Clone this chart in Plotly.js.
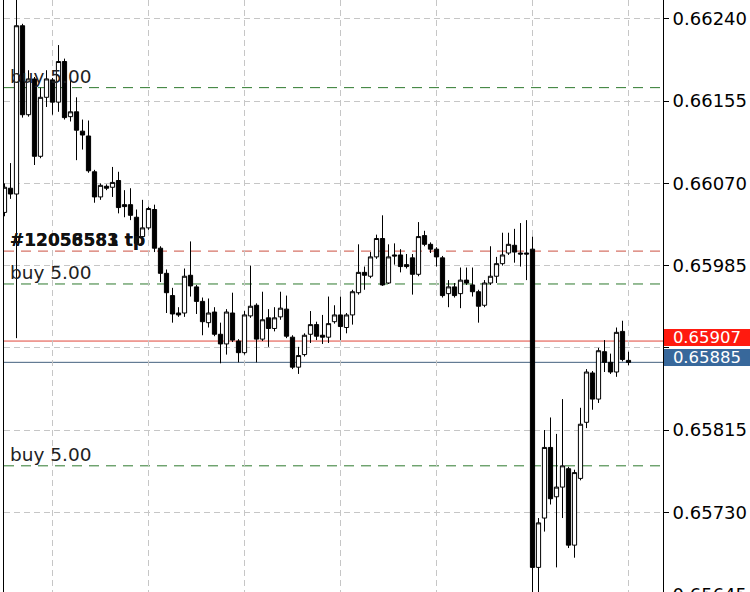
<!DOCTYPE html>
<html>
<head>
<meta charset="utf-8">
<script src="https://cdn.plot.ly/plotly-3.0.1.min.js"></script>
<style>
html,body{margin:0;padding:0;overflow:hidden;background:#fff;}
#chart{width:750px;height:620px;}
</style>
</head>
<body>
<div id="chart"></div>
<script>
// OHLC candles (one per bar, oldest first)
var opens = [0.66040,0.66065,0.66059,0.66233,0.66141,0.66178,0.66098,0.66159,0.66177,0.66154,
0.66196,0.66139,0.66144,0.66124,0.66119,0.66082,0.66056,0.66067,0.66066,0.66073,
0.66048,0.66048,0.66035,0.66015,0.66024,0.66043,0.66003,0.65977,0.65954,0.65936,
0.65936,0.65975,0.65963,0.65948,0.65926,0.65937,0.65914,0.65904,0.65936,0.65907,
0.65895,0.65933,0.65944,0.65909,0.65931,0.65920,0.65932,0.65940,0.65911,0.65880,
0.65893,0.65914,0.65924,0.65913,0.65911,0.65927,0.65934,0.65921,0.65934,0.65957,
0.65978,0.65974,0.65994,0.66013,0.65967,0.65996,0.65996,0.65986,0.65993,0.65976,
0.66016,0.66007,0.66002,0.65993,0.65956,0.65963,0.65956,0.65970,0.65965,0.65958,
0.65944,0.65967,0.65974,0.65987,0.65998,0.66006,0.65998,0.65998,0.66002,0.65673,
0.65724,0.65797,0.65746,0.65756,0.65775,0.65696,0.65765,0.65823,0.65874,0.65847,
0.65896,0.65885,0.65875,0.65917,0.65887];
var highs = [0.66070,0.66091,0.66270,0.66235,0.66187,0.66180,0.66169,0.66187,0.66179,0.66213,
0.66199,0.66177,0.66159,0.66136,0.66135,0.66084,0.66070,0.66069,0.66087,0.66082,
0.66063,0.66065,0.66043,0.66053,0.66046,0.66048,0.66005,0.65981,0.65962,0.65942,
0.65982,0.66010,0.65965,0.65952,0.65951,0.65942,0.65926,0.65940,0.65957,0.65909,
0.65938,0.65985,0.65946,0.65958,0.65940,0.65942,0.65958,0.65954,0.65913,0.65901,
0.65915,0.65938,0.65927,0.65934,0.65953,0.65944,0.65953,0.65936,0.65960,0.66007,
0.65984,0.65999,0.66017,0.66037,0.66007,0.66008,0.66002,0.65997,0.65997,0.66030,
0.66021,0.66009,0.66004,0.65995,0.65970,0.65967,0.65983,0.65983,0.65983,0.65960,
0.65970,0.66005,0.65994,0.66019,0.66019,0.66023,0.66029,0.66032,0.66015,0.65724,
0.65815,0.65828,0.65811,0.65847,0.65777,0.65774,0.65838,0.65878,0.65876,0.65900,
0.65908,0.65894,0.65921,0.65928,0.65896];
var lows = [0.66036,0.66054,0.65910,0.66138,0.66139,0.66089,0.66096,0.66149,0.66141,0.66144,
0.66136,0.66134,0.66094,0.66105,0.66081,0.66050,0.66053,0.66063,0.66056,0.66039,
0.66035,0.66032,0.66006,0.66012,0.66022,0.65999,0.65968,0.65936,0.65926,0.65932,
0.65932,0.65953,0.65935,0.65913,0.65921,0.65912,0.65884,0.65893,0.65906,0.65885,
0.65893,0.65931,0.65885,0.65907,0.65901,0.65917,0.65929,0.65910,0.65878,0.65873,
0.65891,0.65905,0.65908,0.65904,0.65905,0.65925,0.65908,0.65915,0.65924,0.65955,
0.65960,0.65972,0.65992,0.65964,0.65966,0.65986,0.65978,0.65982,0.65955,0.65974,
0.66005,0.65998,0.65984,0.65952,0.65942,0.65952,0.65941,0.65965,0.65953,0.65926,
0.65942,0.65965,0.65967,0.65985,0.65996,0.65988,0.65984,0.65970,0.65640,0.65640,
0.65710,0.65738,0.65673,0.65724,0.65693,0.65683,0.65763,0.65817,0.65836,0.65843,
0.65875,0.65873,0.65870,0.65886,0.65882];
var closes = [0.66066,0.66059,0.66233,0.66141,0.66178,0.66098,0.66159,0.66178,0.66154,0.66196,
0.66138,0.66144,0.66125,0.66120,0.66083,0.66056,0.66068,0.66065,0.66071,0.66045,
0.66046,0.66037,0.66008,0.66024,0.66044,0.66003,0.65977,0.65957,0.65935,0.65934,
0.65974,0.65964,0.65948,0.65927,0.65936,0.65914,0.65904,0.65937,0.65908,0.65895,
0.65934,0.65943,0.65909,0.65929,0.65920,0.65931,0.65941,0.65912,0.65880,0.65892,
0.65913,0.65924,0.65912,0.65911,0.65925,0.65934,0.65922,0.65934,0.65958,0.65978,
0.65975,0.65994,0.66013,0.65965,0.65994,0.65995,0.65984,0.65984,0.65976,0.66015,
0.66007,0.66002,0.65994,0.65954,0.65963,0.65954,0.65970,0.65967,0.65958,0.65943,
0.65967,0.65974,0.65987,0.65996,0.66007,0.65999,0.65997,0.65997,0.65673,0.65719,
0.65797,0.65744,0.65756,0.65778,0.65696,0.65771,0.65821,0.65875,0.65847,0.65897,
0.65885,0.65875,0.65916,0.65888,0.65885];

// Trade levels drawn as dashed lines with their labels
var levelPrices = [0.66169, 0.66000, 0.65966, 0.65778];
var levelColors = ['#2e7a2e', '#cc5040', '#2e7a2e', '#2e7a2e'];
var levelLabels = ['buy 5.00', '#12058583 tp', 'buy 5.00', 'buy 5.00'];
var tpOverlapLabel = '#12056581 tp';

// Current prices (ask / bid)
var askPrice = 0.65907;
var bidPrice = 0.65885;

// Axis ticks (price grid); labels hidden where the price boxes cover them
var yTickVals = [0.66240, 0.66155, 0.66070, 0.65985, 0.65900, 0.65815, 0.65730, 0.65645];
var yTickHidden = [0.65900];

var xs = opens.map(function (_, i) { return i; });

var candle = {
  type: 'candlestick',
  x: xs, open: opens, high: highs, low: lows, close: closes,
  increasing: {line: {color: '#000000', width: 1}, fillcolor: '#ffffff'},
  decreasing: {line: {color: '#000000', width: 1}, fillcolor: '#000000'},
  whiskerwidth: 0,
  hoverinfo: 'skip',
  showlegend: false
};

var shapes = [];
var annotations = [];
levelPrices.forEach(function (p, k) {
  shapes.push({type: 'line', xref: 'paper', x0: 0, x1: 1, yref: 'y', y0: p, y1: p,
    line: {color: levelColors[k], width: 1, dash: '10px,7px'}, layer: 'below'});
  var isTp = levelLabels[k].indexOf('tp') >= 0;
  annotations.push({xref: 'paper', x: 0, xanchor: 'left', xshift: 4, yref: 'y', y: p,
    yanchor: 'bottom', yshift: -1, showarrow: false, text: isTp ? '<b>' + levelLabels[k] + '</b>' : levelLabels[k],
    font: {family: 'DejaVu Sans', size: isTp ? 17 : 18.5, color: isTp ? '#111' : '#222'}});
  if (isTp) {
    annotations.push({xref: 'paper', x: 0, xanchor: 'left', xshift: 4, yref: 'y', y: p,
      yanchor: 'bottom', yshift: -1, showarrow: false, text: '<b>' + tpOverlapLabel + '</b>',
      font: {family: 'DejaVu Sans', size: 17, color: '#111'}});
  }
});
shapes.push({type: 'line', xref: 'paper', x0: 0, x1: 1, yref: 'y', y0: askPrice, y1: askPrice,
  line: {color: '#e0453a', width: 1}, layer: 'below'});
shapes.push({type: 'line', xref: 'paper', x0: 0, x1: 1, yref: 'y', y0: bidPrice, y1: bidPrice,
  line: {color: '#44617f', width: 1}, layer: 'below'});

annotations.push({xref: 'paper', x: 1, xanchor: 'left', xshift: 1, yref: 'y', y: askPrice,
  yanchor: 'middle', yshift: 4, showarrow: false, text: askPrice.toFixed(5), align: 'center',
  width: 86, height: 17, borderpad: 0, borderwidth: 0, bgcolor: '#ff1a0f',
  font: {family: 'DejaVu Sans', size: 16.5, color: '#ffffff'}});
annotations.push({xref: 'paper', x: 1, xanchor: 'left', xshift: 1, yref: 'y', y: bidPrice,
  yanchor: 'middle', yshift: 5, showarrow: false, text: bidPrice.toFixed(5), align: 'center',
  width: 86, height: 17, borderpad: 0, borderwidth: 0, bgcolor: '#38689b',
  font: {family: 'DejaVu Sans', size: 16.5, color: '#ffffff'}});

var yTickText = yTickVals.map(function (v) {
  return yTickHidden.indexOf(v) >= 0 ? '' : v.toFixed(5);
});

var layout = {
  width: 750, height: 620,
  margin: {l: 4, r: 87, t: 0, b: 0, pad: 0},
  paper_bgcolor: '#ffffff', plot_bgcolor: '#ffffff',
  showlegend: false,
  boxgap: 0.3, boxgroupgap: 0,
  xaxis: {
    range: [-0.0833, 109.75], rangeslider: {visible: false},
    tickmode: 'linear', tick0: 8, dtick: 16,
    showticklabels: false, ticks: '',
    showgrid: true, gridcolor: '#c6c6c6', gridwidth: 1, griddash: '6px,4px',
    showline: false, zeroline: false, fixedrange: true
  },
  yaxis: {
    side: 'right', range: [0.656186, 0.662596],
    tickmode: 'array', tickvals: yTickVals, ticktext: yTickText,
    ticks: 'outside', ticklen: 5, tickcolor: '#000', tickwidth: 1,
    tickfont: {family: 'DejaVu Sans', size: 18, color: '#000'},
    showgrid: true, gridcolor: '#c6c6c6', gridwidth: 1, griddash: '6px,4px',
    showline: true, linecolor: '#000', linewidth: 1, mirror: true,
    zeroline: false, fixedrange: true, automargin: false
  },
  shapes: shapes,
  annotations: annotations
};

Plotly.newPlot('chart', [candle], layout, {displayModeBar: false, staticPlot: true});
</script>
</body>
</html>
